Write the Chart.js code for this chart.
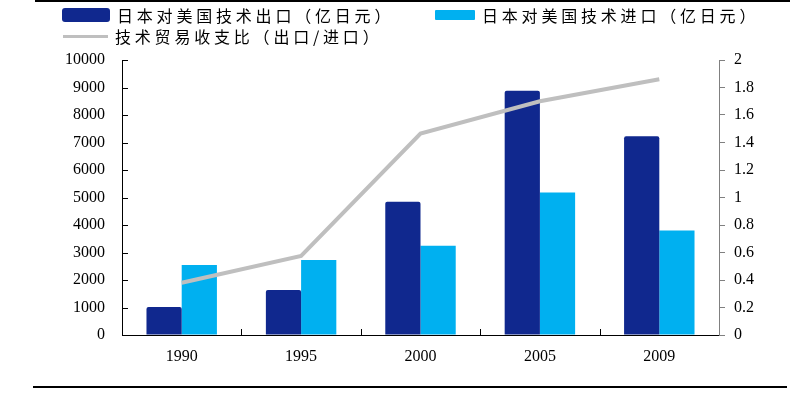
<!DOCTYPE html>
<html>
<head>
<meta charset="utf-8">
<script src="https://cdn.jsdelivr.net/npm/chart.js@4/dist/chart.umd.min.js"></script>
<style>
  html, body { margin: 0; padding: 0; background: #fff; }
  #wrap { position: relative; width: 812px; height: 394px; }
  #chart { position: absolute; left: 0; top: 0; }
  .rule { position: absolute; background: #000; }
  .legend-item { position: absolute; font-family: "Noto Sans CJK SC", sans-serif; font-size: 16px; letter-spacing: 3.8px; color: #000; line-height: 18px; white-space: nowrap; }
  .swatch { position: absolute; }
</style>
</head>
<body>
<div id="wrap">
  <canvas id="chart" width="812" height="394"></canvas>
  <div class="rule" style="left:35px; top:0px; width:755px; height:2px;"></div>
  <div class="rule" style="left:33px; top:386px; width:754px; height:2px;"></div>
  <div id="legend"></div>
</div>
<script>
const years = ['1990', '1995', '2000', '2005', '2009'];
const exportsToUS = [1020, 1640, 4850, 8880, 7230];   // 亿日元
const importsFromUS = [2550, 2730, 3250, 5180, 3800]; // 亿日元
const tradeRatio = [0.38, 0.575, 1.465, 1.70, 1.86];
const seriesNames = ['日本对美国技术出口（亿日元）', '日本对美国技术进口（亿日元）', '技术贸易收支比（出口/进口）'];
const leftTicks = [0, 1000, 2000, 3000, 4000, 5000, 6000, 7000, 8000, 9000, 10000];
const rightTicks = [0, 0.2, 0.4, 0.6, 0.8, 1, 1.2, 1.4, 1.6, 1.8, 2];

const DARK = '#10288e';
const LIGHT = '#00b0f0';
const GREY = '#bfbfbf';
const tickFont = { family: '"Liberation Serif", "Times New Roman", serif', size: 16 };

// legend in html, laid out like the original (2 items on top row, 1 below)
function buildLegend() {
    const box = document.getElementById('legend');
    const spots = [
        { x: 62, y: 8, sw: { w: 48, h: 14, r: 3, c: DARK, dy: 0 } },
        { x: 435, y: 8, sw: { w: 40, h: 10, r: 1, c: LIGHT, dy: 2 } },
        { x: 63, y: 29, sw: { w: 45, h: 3, r: 0, c: GREY, dy: 6 } }
    ];
    spots.forEach((s, i) => {
        const sw = document.createElement('div');
        sw.className = 'swatch';
        sw.style.cssText = `left:${s.x}px;top:${s.y + s.sw.dy}px;width:${s.sw.w}px;height:${s.sw.h}px;background:${s.sw.c};border-radius:${s.sw.r}px;`;
        box.appendChild(sw);
        const t = document.createElement('div');
        t.className = 'legend-item';
        t.style.left = (s.x + s.sw.w + 7) + 'px';
        t.style.top = (s.y - 2) + 'px';
        t.textContent = seriesNames[i];
        box.appendChild(t);
    });
}

// small inward tick marks (left axis, x axis) like the excel original
const tickMarks = {
    id: 'tickMarks',
    afterDraw(chart) {
        const ctx = chart.ctx;
        const y = chart.scales.y, x = chart.scales.x;
        ctx.save();
        ctx.strokeStyle = '#000';
        ctx.lineWidth = 1;
        ctx.beginPath();
        leftTicks.forEach(v => {
            const py = Math.round(y.getPixelForValue(v)) + 0.5;
            ctx.moveTo(x.left, py);
            ctx.lineTo(x.left + 6, py);
        });
        for (let i = 1; i < years.length; i++) {
            const px = Math.round((x.getPixelForValue(i - 1) + x.getPixelForValue(i)) / 2) + 0.5;
            ctx.moveTo(px, y.bottom);
            ctx.lineTo(px, y.bottom - 6);
        }
        ctx.stroke();
        ctx.restore();
    }
};

buildLegend();

new Chart(document.getElementById('chart'), {
    type: 'bar',
    data: {
        labels: years,
        datasets: [
            {
                type: 'line',
                label: seriesNames[2],
                data: tradeRatio,
                yAxisID: 'y1',
                borderColor: GREY,
                borderWidth: 4,
                pointRadius: 0,
                tension: 0,
                order: 0
            },
            {
                label: seriesNames[0],
                data: exportsToUS,
                backgroundColor: DARK,
                borderRadius: { topLeft: 2, topRight: 2 },
                borderSkipped: 'bottom',
                categoryPercentage: 0.59,
                barPercentage: 1,
                order: 1
            },
            {
                label: seriesNames[1],
                data: importsFromUS,
                backgroundColor: LIGHT,
                categoryPercentage: 0.59,
                barPercentage: 1,
                order: 1
            }
        ]
    },
    options: {
        responsive: false,
        animation: false,
        layout: { padding: { top: 60, left: 0, right: 0, bottom: 0 } },
        plugins: {
            legend: { display: false },
            tooltip: { enabled: false }
        },
        scales: {
            x: {
                grid: { display: false, drawTicks: false },
                border: { display: true, color: '#000', width: 1 },
                ticks: { color: '#000', font: tickFont, padding: 12 },
                afterFit(scale) { scale.height = 59; }
            },
            y: {
                position: 'left',
                min: 0,
                max: 10000,
                afterBuildTicks(scale) { scale.ticks = leftTicks.map(v => ({ value: v })); },
                grid: { drawOnChartArea: false, drawTicks: false },
                border: { display: true, color: '#000', width: 1 },
                ticks: { color: '#000', font: tickFont, padding: 17, callback: v => String(v) },
                afterFit(scale) { scale.width = 122; }
            },
            y1: {
                position: 'right',
                min: 0,
                max: 2,
                afterBuildTicks(scale) { scale.ticks = rightTicks.map(v => ({ value: v })); },
                grid: { drawOnChartArea: false, drawTicks: true, tickLength: 6, color: '#808080' },
                border: { display: true, color: '#808080', width: 1 },
                ticks: { color: '#000', font: tickFont, padding: 9, callback: v => String(v) },
                afterFit(scale) { scale.width = 93; }
            }
        }
    },
    plugins: [tickMarks]
});
</script>
</body>
</html>
